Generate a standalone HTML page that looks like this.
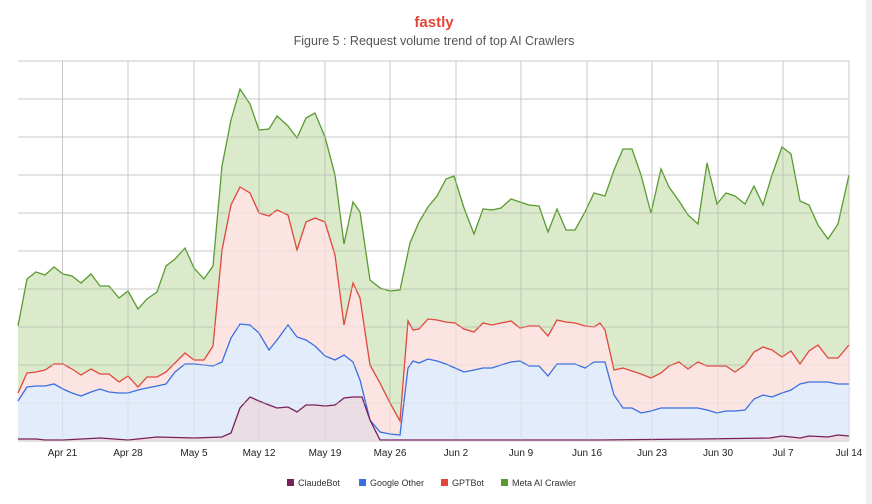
<!DOCTYPE html>
<html><head><meta charset="utf-8"><style>
body{margin:0;background:#fff;font-family:"Liberation Sans",sans-serif;}
svg{display:block}
</style></head><body>
<svg width="872" height="504" viewBox="0 0 872 504" xmlns="http://www.w3.org/2000/svg" font-family="Liberation Sans, sans-serif">
<rect x="866" y="0" width="6" height="504" fill="#f0f0f0"/>
<text x="434" y="27" text-anchor="middle" font-size="15" font-weight="bold" fill="#e4473a">fastly</text>
<text x="434" y="45" text-anchor="middle" font-size="12.5" fill="#555">Figure 5 : Request volume trend of top AI Crawlers</text>
<g id="grid">
<g stroke="#d6d6d6" stroke-width="1.3">
<line x1="18" y1="61" x2="849" y2="61"/><line x1="18" y1="99" x2="849" y2="99"/><line x1="18" y1="137" x2="849" y2="137"/><line x1="18" y1="175" x2="849" y2="175"/><line x1="18" y1="213" x2="849" y2="213"/><line x1="18" y1="251" x2="849" y2="251"/><line x1="18" y1="289" x2="849" y2="289"/><line x1="18" y1="327" x2="849" y2="327"/><line x1="18" y1="365" x2="849" y2="365"/><line x1="18" y1="403" x2="849" y2="403"/><line x1="18" y1="441" x2="849" y2="441"/>
</g>
<g stroke="#c8c8c8" stroke-width="1">
<line x1="62.5" y1="61" x2="62.5" y2="441"/><line x1="128" y1="61" x2="128" y2="441"/><line x1="194" y1="61" x2="194" y2="441"/><line x1="259" y1="61" x2="259" y2="441"/><line x1="325" y1="61" x2="325" y2="441"/><line x1="390" y1="61" x2="390" y2="441"/><line x1="456" y1="61" x2="456" y2="441"/><line x1="521" y1="61" x2="521" y2="441"/><line x1="587" y1="61" x2="587" y2="441"/><line x1="652" y1="61" x2="652" y2="441"/><line x1="718" y1="61" x2="718" y2="441"/><line x1="783" y1="61" x2="783" y2="441"/><line x1="849" y1="61" x2="849" y2="441"/>
</g>
</g>
<polygon fill="rgba(140,190,90,0.32)" points="18,441 18,326 27,279 36,272 45,275 54,267 63,274 72,276 81,283 91,274 100,286 109,286 119,298 128,291 138,309 147,299 157,292 166,266 175,259 185,248 194,268 204,279 213,266 222,166 231,120 240,89 250,104 259,130 269,129 277,116 288,126 297,138 306,118 315,113 325,137 335,175 344,244 353,202 360,212 370,280 380,288 390,291 400,290 410,243 419,222 428,207 437,196 446,179 454,176 464,208 474,234 483,209 492,210 501,208 511,199 520,202 529,205 539,206 548,232 557,209 566,230 575,230 585,212 594,193 605,196 614,170 623,149 632,149 641,175 651,213 661,169 669,187 679,201 688,215 698,224 707,163 717,204 726,193 735,196 745,204 754,186 763,205 772,175 782,147 791,154 800,201 809,205 818,225 828,239 838,224 849,175 849,441"/>
<polyline fill="none" stroke="#5a9a30" stroke-width="1.3" points="18,326 27,279 36,272 45,275 54,267 63,274 72,276 81,283 91,274 100,286 109,286 119,298 128,291 138,309 147,299 157,292 166,266 175,259 185,248 194,268 204,279 213,266 222,166 231,120 240,89 250,104 259,130 269,129 277,116 288,126 297,138 306,118 315,113 325,137 335,175 344,244 353,202 360,212 370,280 380,288 390,291 400,290 410,243 419,222 428,207 437,196 446,179 454,176 464,208 474,234 483,209 492,210 501,208 511,199 520,202 529,205 539,206 548,232 557,209 566,230 575,230 585,212 594,193 605,196 614,170 623,149 632,149 641,175 651,213 661,169 669,187 679,201 688,215 698,224 707,163 717,204 726,193 735,196 745,204 754,186 763,205 772,175 782,147 791,154 800,201 809,205 818,225 828,239 838,224 849,175"/>
<polygon fill="#fbe4e2" points="18,441 18,393 27,373 36,372 45,370 54,364 63,364 72,369 81,375 91,369 100,374 109,374 119,382 128,376 138,387 147,377 157,377 166,372 175,363 185,353 194,360 204,360 213,346 222,250 231,205 240,187 250,193 259,213 269,216 277,210 288,215 297,250 306,222 315,218 325,222 335,255 344,325 353,283 360,298 370,365 380,383 390,403 400,421 408,321 413,330 419,329 428,319 437,320 446,322 455,323 464,329 474,332 483,323 492,325 501,323 511,321 520,328 529,326 539,326 548,336 557,320 566,322 575,323 585,326 594,327 600,323 605,330 614,370 623,368 632,371 641,374 651,378 661,373 669,366 679,362 688,369 698,362 707,366 717,366 726,366 735,372 745,365 754,352 763,347 772,350 782,357 791,351 800,364 809,351 818,345 828,358 838,358 849,345 849,441"/>
<polyline fill="none" stroke="#e0483c" stroke-width="1.3" points="18,393 27,373 36,372 45,370 54,364 63,364 72,369 81,375 91,369 100,374 109,374 119,382 128,376 138,387 147,377 157,377 166,372 175,363 185,353 194,360 204,360 213,346 222,250 231,205 240,187 250,193 259,213 269,216 277,210 288,215 297,250 306,222 315,218 325,222 335,255 344,325 353,283 360,298 370,365 380,383 390,403 400,421 408,321 413,330 419,329 428,319 437,320 446,322 455,323 464,329 474,332 483,323 492,325 501,323 511,321 520,328 529,326 539,326 548,336 557,320 566,322 575,323 585,326 594,327 600,323 605,330 614,370 623,368 632,371 641,374 651,378 661,373 669,366 679,362 688,369 698,362 707,366 717,366 726,366 735,372 745,365 754,352 763,347 772,350 782,357 791,351 800,364 809,351 818,345 828,358 838,358 849,345"/>
<polygon fill="#e2ecfb" points="18,441 18,401 27,387 36,386 45,386 54,384 63,389 72,393 81,396 91,392 100,389 109,392 119,393 128,393 138,390 147,388 157,386 166,384 175,372 185,364 194,364 204,365 213,366 222,362 231,338 240,324 250,325 259,333 269,350 277,340 288,325 297,337 306,340 315,346 325,356 335,360 344,355 353,362 360,380 370,420 380,432 390,434 400,435 408,368 413,361 419,363 428,359 437,361 446,364 455,368 464,372 474,370 483,368 492,368 501,365 511,362 520,361 529,366 539,366 548,376 557,364 566,364 575,364 585,368 594,362 605,362 614,395 623,408 632,408 641,413 651,411 661,408 669,408 679,408 688,408 698,408 707,410 717,413 726,411 735,411 745,410 754,399 763,395 772,397 782,393 791,390 800,384 809,382 818,382 828,382 838,384 849,384 849,441"/>
<polyline fill="none" stroke="#3a6fe0" stroke-width="1.3" points="18,401 27,387 36,386 45,386 54,384 63,389 72,393 81,396 91,392 100,389 109,392 119,393 128,393 138,390 147,388 157,386 166,384 175,372 185,364 194,364 204,365 213,366 222,362 231,338 240,324 250,325 259,333 269,350 277,340 288,325 297,337 306,340 315,346 325,356 335,360 344,355 353,362 360,380 370,420 380,432 390,434 400,435 408,368 413,361 419,363 428,359 437,361 446,364 455,368 464,372 474,370 483,368 492,368 501,365 511,362 520,361 529,366 539,366 548,376 557,364 566,364 575,364 585,368 594,362 605,362 614,395 623,408 632,408 641,413 651,411 661,408 669,408 679,408 688,408 698,408 707,410 717,413 726,411 735,411 745,410 754,399 763,395 772,397 782,393 791,390 800,384 809,382 818,382 828,382 838,384 849,384"/>
<polygon fill="#eadde3" points="18,441 18,439 36,439 45,440 63,440 100,438 128,440 157,437 194,438 222,437 231,433 240,408 250,397 259,401 269,405 277,408 288,407 297,412 306,405 315,405 325,406 335,405 344,398 353,397 362,397 370,420 380,440 600,440 700,439 770,438 782,436 800,438 809,436 828,437 838,435 849,436 849,441"/>
<polyline fill="none" stroke="#7a1f5a" stroke-width="1.3" points="18,439 36,439 45,440 63,440 100,438 128,440 157,437 194,438 222,437 231,433 240,408 250,397 259,401 269,405 277,408 288,407 297,412 306,405 315,405 325,406 335,405 344,398 353,397 362,397 370,420 380,440 600,440 700,439 770,438 782,436 800,438 809,436 828,437 838,435 849,436"/>
<use href="#grid" opacity="0.35"/>
<g font-size="10" fill="#222" text-anchor="middle">
<text x="62.5" y="456">Apr 21</text><text x="128" y="456">Apr 28</text><text x="194" y="456">May 5</text><text x="259" y="456">May 12</text><text x="325" y="456">May 19</text><text x="390" y="456">May 26</text><text x="456" y="456">Jun 2</text><text x="521" y="456">Jun 9</text><text x="587" y="456">Jun 16</text><text x="652" y="456">Jun 23</text><text x="718" y="456">Jun 30</text><text x="783" y="456">Jul 7</text><text x="849" y="456">Jul 14</text>
</g>
<g font-size="9" fill="#333">
<rect x="287" y="479" width="7" height="7" fill="#7a1f5a"/><text x="298" y="486">ClaudeBot</text>
<rect x="359" y="479" width="7" height="7" fill="#3a6fe0"/><text x="370" y="486">Google Other</text>
<rect x="441" y="479" width="7" height="7" fill="#e0483c"/><text x="452" y="486">GPTBot</text>
<rect x="501" y="479" width="7" height="7" fill="#5a9a30"/><text x="512" y="486">Meta AI Crawler</text>
</g>
</svg>
</body></html>
